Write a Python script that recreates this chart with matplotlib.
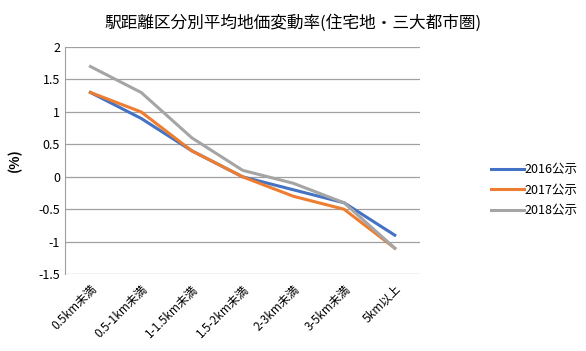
import matplotlib.pyplot as plt

plt.rcParams['font.family'] = ['Noto Sans CJK JP', 'DejaVu Sans']

categories = ['0.5km未満', '0.5-1km未満', '1-1.5km未満', '1.5-2km未満', '2-3km未満', '3-5km未満', '5km以上']
y2016 = [1.3, 0.9, 0.4, 0.0, -0.2, -0.4, -0.9]
y2017 = [1.3, 1.0, 0.4, 0.0, -0.3, -0.5, -1.1]
y2018 = [1.7, 1.3, 0.6, 0.1, -0.1, -0.4, -1.1]

fig = plt.figure(figsize=(5.86, 3.51), dpi=100)
ax = fig.add_axes([0.111, 0.219, 0.606, 0.647])

x = range(len(categories))
ax.plot(x, y2016, color='#4472C4', lw=2.2, label='2016公示')
ax.plot(x, y2017, color='#ED7D31', lw=2.2, label='2017公示')
ax.plot(x, y2018, color='#A5A5A5', lw=2.2, label='2018公示')

ax.set_xlim(-0.5, len(categories) - 0.5)
ax.set_ylim(-1.5, 2)
ax.set_yticks([-1.5, -1, -0.5, 0, 0.5, 1, 1.5, 2])
ax.set_yticklabels(['-1.5', '-1', '-0.5', '0', '0.5', '1', '1.5', '2'], fontsize=9)
ax.yaxis.grid(True, color='#A0A0A0', lw=0.9)
ax.set_axisbelow(True)
ax.set_xticks(list(x))
ax.set_xticklabels(categories, rotation=45, ha='right', rotation_mode='anchor', fontsize=8.5)
ax.tick_params(length=0)
ax.tick_params(axis='x', pad=6)
for s in ['top', 'right', 'bottom']:
    ax.spines[s].set_visible(False)
ax.spines['left'].set_color('#A0A0A0')
ax.set_ylabel('(%)', fontsize=10, fontweight='bold', labelpad=12)

fig.suptitle('駅距離区分別平均地価変動率(住宅地・三大都市圏)', fontsize=12, y=0.96)
ax.legend(loc='center left', bbox_to_anchor=(1.2, 0.37), frameon=False, fontsize=9,
          handlelength=2.6, handletextpad=0.1, labelspacing=0.6, borderpad=0, borderaxespad=0)

fig.savefig('out.png', dpi=100)
